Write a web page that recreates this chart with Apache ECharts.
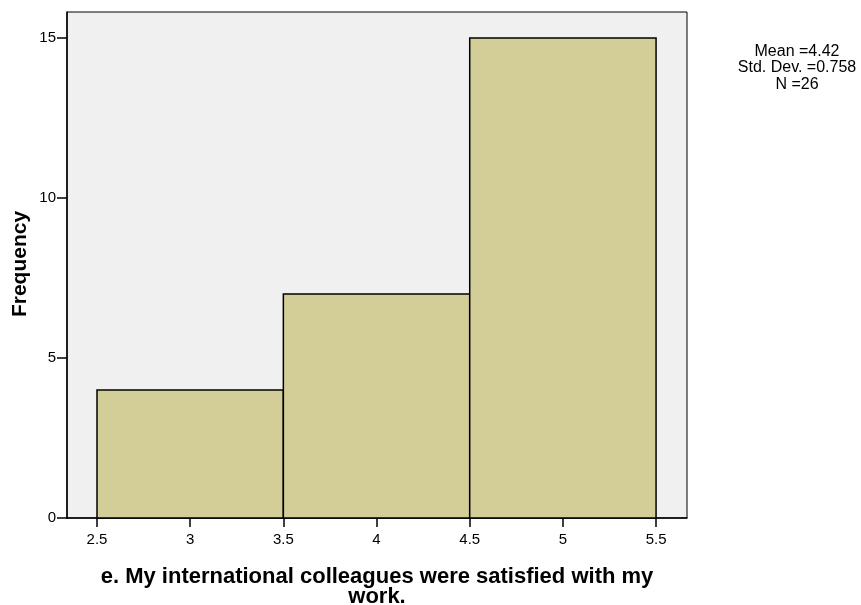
<!DOCTYPE html>
<html>
<head>
<meta charset="utf-8">
<script src="https://cdn.jsdelivr.net/npm/echarts@6/dist/echarts.min.js"></script>
<style>html,body{margin:0;padding:0;background:#fff;}#c{width:861px;height:605px;}</style>
</head>
<body>
<div id="c"></div>
<script>
const binStarts = [2.5, 3.5, 4.5];
const binEnds = [3.5, 4.5, 5.5];
const frequencies = [4, 7, 15];
const xTicks = [2.5, 3, 3.5, 4, 4.5, 5, 5.5];
const yTicks = [0, 5, 10, 15];
const statsLines = ['Mean =4.42', 'Std. Dev. =0.758', 'N =26'];
const xTitle = 'e. My international colleagues were satisfied with my\nwork.';
const yTitle = 'Frequency';

const data = binStarts.map((s, i) => [s, binEnds[i], frequencies[i]]);
const chart = echarts.init(document.getElementById('c'));
const font = 'Arial, "Liberation Sans", sans-serif';
chart.setOption({
  animation: false,
  grid: { left: 67, top: 12, right: 174, bottom: 87, show: true, backgroundColor: '#F0F0F0', borderColor: '#000', borderWidth: 1 },
  xAxis: {
    type: 'value', min: 2.339, max: 5.666,
    splitLine: { show: false },
    axisLine: { show: true, onZero: false, lineStyle: { color: '#000', width: 1.5 } },
    axisTick: { show: true, length: 9, customValues: xTicks, lineStyle: { color: '#000', width: 1.5 } },
    axisLabel: { customValues: xTicks, color: '#000', fontSize: 15, fontFamily: font, margin: 14, formatter: v => String(v) }
  },
  yAxis: {
    type: 'value', min: 0, max: 15.8125,
    splitLine: { show: false },
    axisLine: { show: true, lineStyle: { color: '#000', width: 1.5 } },
    axisTick: { show: true, length: 10, customValues: yTicks, lineStyle: { color: '#000', width: 1.5 } },
    axisLabel: { customValues: yTicks, color: '#000', fontSize: 15, fontFamily: font, margin: 11 }
  },
  series: [{
    type: 'custom',
    data: data,
    encode: { x: [0, 1], y: 2 },
    renderItem: function (params, api) {
      const p0 = api.coord([api.value(0), 0]);
      const p1 = api.coord([api.value(1), api.value(2)]);
      return {
        type: 'rect',
        shape: { x: p0[0], y: p1[1], width: p1[0] - p0[0], height: p0[1] - p1[1] },
        style: { fill: '#D3CE97', stroke: '#000', lineWidth: 1.5 }
      };
    }
  }],
  graphic: [
    { type: 'text', x: 797, y: 68, style: { text: statsLines.join('\n'), fill: '#000', font: '16px ' + font, align: 'center', verticalAlign: 'middle', lineHeight: 16.5 } },
    { type: 'text', x: 377, y: 587, style: { text: xTitle, fill: '#000', font: 'bold 22px ' + font, align: 'center', verticalAlign: 'middle', lineHeight: 20 } },
    { type: 'text', x: 20, y: 264, rotation: Math.PI / 2, style: { text: yTitle, fill: '#000', font: 'bold 21px ' + font, align: 'center', verticalAlign: 'middle' } }
  ]
});
</script>
</body>
</html>
